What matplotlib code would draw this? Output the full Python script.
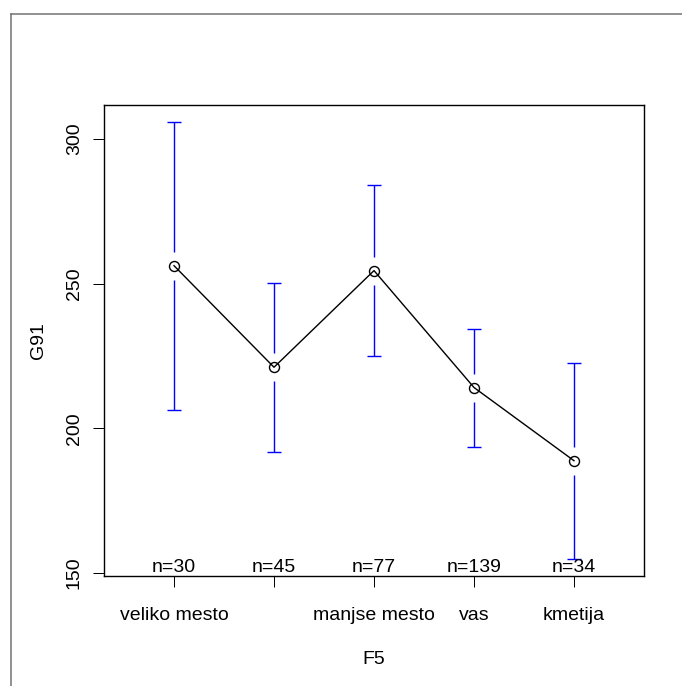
import matplotlib
matplotlib.use("Agg")
import matplotlib.pyplot as plt
from matplotlib.lines import Line2D
import numpy as np

# ---- data ----
categories = ["veliko mesto", "", "manjse mesto", "vas", "kmetija"]
means = [256.2, 221.1, 254.5, 214.1, 188.8]
upper = [305.9, 250.2, 284.0, 234.3, 222.6]
lower = [206.4, 191.9, 225.1, 193.4, 154.8]
counts = [30, 45, 77, 139, 34]
yticks = [150, 200, 250, 300]
xlabel = "F5"
ylabel = "G91"

plt.rcParams['font.family'] = ['Liberation Sans', 'DejaVu Sans']
FS = 14.0
PX = 0.72  # 1 px in points

fig = plt.figure(figsize=(6.82, 6.86), dpi=100)
W, H = 682, 686
ax = fig.add_axes([104 / W, 1 - 576 / H, (644 - 104) / W, (576 - 104.5) / H])

x = np.arange(1, len(means) + 1)
ax.set_xlim(0.3, 5.7)
ax.set_ylim(148.96, 311.9)

# gap around the mean marker, in data units (about 14 px)
ax_h_px = 576 - 104.5
gap = 14 * (311.9 - 148.96) / ax_h_px
cap = 0.07

blue = "#0000FF"
for xi, m, u, l in zip(x, means, upper, lower):
    ax.vlines(xi, m + gap, u, color=blue, lw=1.4 * PX)
    ax.vlines(xi, l, m - gap, color=blue, lw=1.4 * PX)
    ax.hlines([u, l], xi - cap, xi + cap, color=blue, lw=1.4 * PX)

ax.plot(x, means, color="black", lw=1.4 * PX, marker="o", markersize=10 * PX,
        markerfacecolor="none", markeredgecolor="black", markeredgewidth=1.4 * PX)

for xi, n in zip(x, counts):
    ax.annotate(f"n={n}", xy=(xi, 0), xycoords=("data", "axes fraction"),
                xytext=(0, 8 * PX), textcoords="offset points",
                ha="center", va="center", fontsize=FS)

ax.set_xticks(x)
ax.set_xticklabels(categories, fontsize=FS)
ax.set_yticks(yticks)
ax.set_yticklabels([str(t) for t in yticks], fontsize=FS, rotation=90, va="center")
ax.tick_params(axis="both", direction="out", length=11 * PX, width=1 * PX, color="black")
ax.tick_params(axis="x", pad=20 * PX)
ax.tick_params(axis="y", pad=10 * PX)

for s in ax.spines.values():
    s.set_linewidth(1.4 * PX)
    s.set_color("black")

ax.set_xlabel(xlabel, fontsize=FS)
ax.set_ylabel(ylabel, fontsize=FS)
ax.xaxis.set_label_coords(0.5, -(660 - 576) / ax_h_px)
ax.yaxis.set_label_coords(-(104 - 38) / 540, 0.5)
ax.xaxis.label.set_va("center")
ax.yaxis.label.set_va("center")

# outer frame (gray), top and left edges visible
fig.add_artist(Line2D([11 / W, 1.0], [1 - 14 / H, 1 - 14 / H], transform=fig.transFigure,
                      color="#707070", lw=1.5 * PX))
fig.add_artist(Line2D([11 / W, 11 / W], [0.0, 1 - 14 / H], transform=fig.transFigure,
                      color="#707070", lw=1.5 * PX))

fig.savefig("out.png", dpi=100)
